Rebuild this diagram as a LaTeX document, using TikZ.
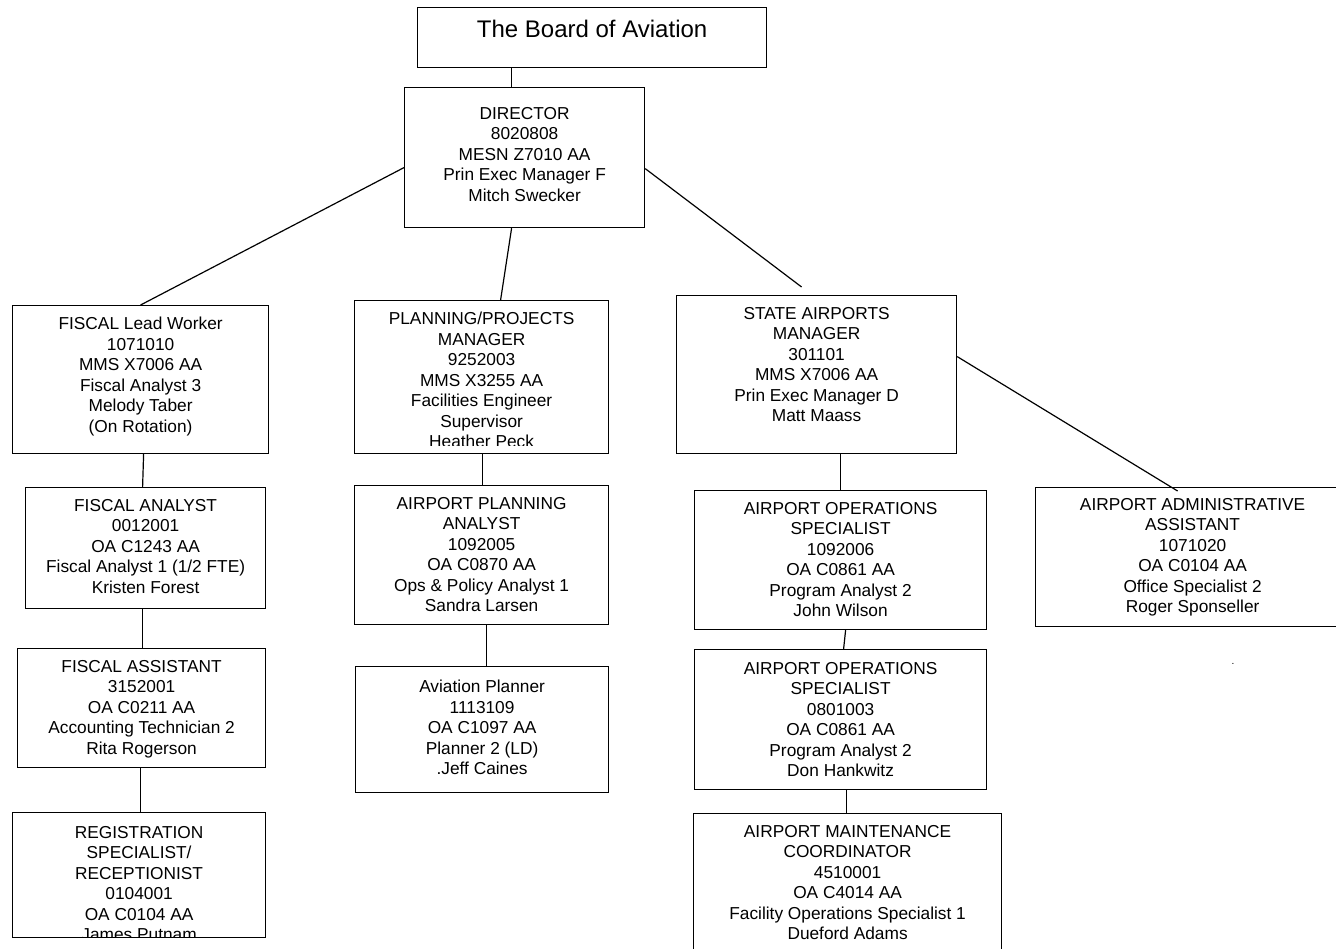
\documentclass[tikz,border=0pt]{standalone}
\usepackage{fontspec}
\setmainfont{Liberation Sans}
\usetikzlibrary{positioning}

\begin{document}
\begin{tikzpicture}[x=1pt, y=-1pt,
        post/.style={draw, line width=1.2pt, anchor=north west, inner sep=0pt},
        duty/.style={align=center, inner sep=0pt, font=\fontsize{17.3}{20.5}\selectfont},
        link/.style={line width=1.2pt}]
    \useasboundingbox (0,0) rectangle (1336,949);
    \clip (0,0) rectangle (1336,949);
    % Boxes, top row first.
        \node[post, minimum width=349, minimum height=60] (board) at (417,7) {};
        \node[duty, font=\fontsize{24}{28}\selectfont, below=13pt of board.north] (boardtxt) {The Board of Aviation};
        \node[post, minimum width=240, minimum height=140] (dir) at (404,87) {};
        \node[duty, below=20pt of dir.north] (dirtxt) {DIRECTOR\\8020808\\MESN Z7010 AA\\Prin Exec Manager F\\Mitch Swecker};
        \node[post, minimum width=256, minimum height=148] (lead) at (12,305) {};
        \node[duty, below=12pt of lead.north] (leadtxt) {FISCAL Lead Worker\\1071010\\MMS X7006 AA\\Fiscal Analyst 3\\Melody Taber\\(On Rotation)};
        \node[post, minimum width=254, minimum height=153] (plan) at (354,300) {};
        \begin{scope}
            \clip (plan.north west) rectangle ([yshift=9pt]plan.south east);
            \node[duty, below=12pt of plan.north] (plantxt) {PLANNING/PROJECTS\\MANAGER\\9252003\\MMS X3255 AA\\Facilities Engineer\\Supervisor\\Heather Peck};
        \end{scope}
        \node[post, minimum width=280, minimum height=158] (state) at (676,295) {};
        \node[duty, below=12pt of state.north] (statetxt) {STATE AIRPORTS\\MANAGER\\301101\\MMS X7006 AA\\Prin Exec Manager D\\Matt Maass};
    % Fiscal column.
        \node[post, minimum width=240, minimum height=121] (fa) at (25,487) {};
        \node[duty, below=12pt of fa.north] (fatxt) {FISCAL ANALYST\\0012001\\OA C1243 AA\\Fiscal Analyst 1 (1/2 FTE)\\Kristen Forest};
        \node[post, minimum width=248, minimum height=119] (asst) at (17,648) {};
        \node[duty, below=12pt of asst.north] (assttxt) {FISCAL ASSISTANT\\3152001\\OA C0211 AA\\Accounting Technician 2\\Rita Rogerson};
        \node[post, minimum width=253, minimum height=125] (reg) at (12,812) {};
        \begin{scope}
            \clip (reg.north west) rectangle ([yshift=2pt]reg.south east);
            \node[duty, below=14pt of reg.north] (regtxt) {REGISTRATION\\SPECIALIST/\\RECEPTIONIST\\0104001\\OA C0104 AA\\James Putnam};
        \end{scope}
    % Planning column.
        \node[post, minimum width=254, minimum height=139] (pa) at (354,485) {};
        \node[duty, below=12pt of pa.north] (patxt) {AIRPORT PLANNING\\ANALYST\\1092005\\OA C0870 AA\\Ops \& Policy Analyst 1\\Sandra Larsen};
        \node[post, minimum width=253, minimum height=126] (avp) at (355,666) {};
        \node[duty, below=14pt of avp.north] (avptxt) {Aviation Planner\\1113109\\OA C1097 AA\\Planner 2 (LD)\\.Jeff Caines};
    % Airports column.
        \node[post, minimum width=292, minimum height=139] (ops1) at (694,490) {};
        \node[duty, below=12pt of ops1.north] (ops1txt) {AIRPORT OPERATIONS\\SPECIALIST\\1092006\\OA C0861 AA\\Program Analyst 2\\John Wilson};
        \node[post, minimum width=292, minimum height=140] (ops2) at (694,649) {};
        \node[duty, below=13pt of ops2.north] (ops2txt) {AIRPORT OPERATIONS\\SPECIALIST\\0801003\\OA C0861 AA\\Program Analyst 2\\Don Hankwitz};
        \node[post, minimum width=308, minimum height=150] (maint) at (693,813) {};
        \node[duty, below=12pt of maint.north] (mainttxt) {AIRPORT MAINTENANCE\\COORDINATOR\\4510001\\OA C4014 AA\\Facility Operations Specialist 1\\Dueford Adams};
        \node[post, minimum width=314, minimum height=139] (admin) at (1035,487) {};
        \node[duty, below=11pt of admin.north] (admintxt) {AIRPORT ADMINISTRATIVE\\ASSISTANT\\1071020\\OA C0104 AA\\Office Specialist 2\\Roger Sponseller};
        \node[inner sep=0pt, font=\fontsize{10}{12}\selectfont] (speck) at (1233,664) {.};
    % Below are the connectors.
        \draw[link] ([xshift=-80.5pt]board.south) -- ([xshift=-13pt]dir.north);
        \draw[link] ([yshift=-10pt]dir.west) -- (lead.north);
        \draw[link] ([xshift=-13pt]dir.south) -- ([xshift=19pt]plan.north);
        \draw[link] ([yshift=-11pt]dir.east) -- ([xshift=-15pt,yshift=8pt]state.north);
        \draw[link] ([yshift=18pt]state.east) -- ([xshift=-15pt,yshift=-4pt]admin.north);
        \draw[link] ([xshift=3pt]lead.south) -- ([xshift=-3pt]fa.north);
        \draw[link] ([xshift=-3pt]fa.south) -- ([xshift=1pt]asst.north);
        \draw[link] ([xshift=-1pt]asst.south) -- ([xshift=1.5pt]reg.north);
        \draw[link] ([xshift=1pt]plan.south) -- ([xshift=1pt]pa.north);
        \draw[link] ([xshift=5pt]pa.south) -- ([xshift=4.5pt]avp.north);
        \draw[link] ([xshift=24pt]state.south) -- (ops1.north);
        \draw[link] ([xshift=5pt]ops1.south) -- ([xshift=3pt]ops2.north);
        \draw[link] ([xshift=6pt]ops2.south) -- ([xshift=-1pt]maint.north);
\end{tikzpicture}
\end{document}
